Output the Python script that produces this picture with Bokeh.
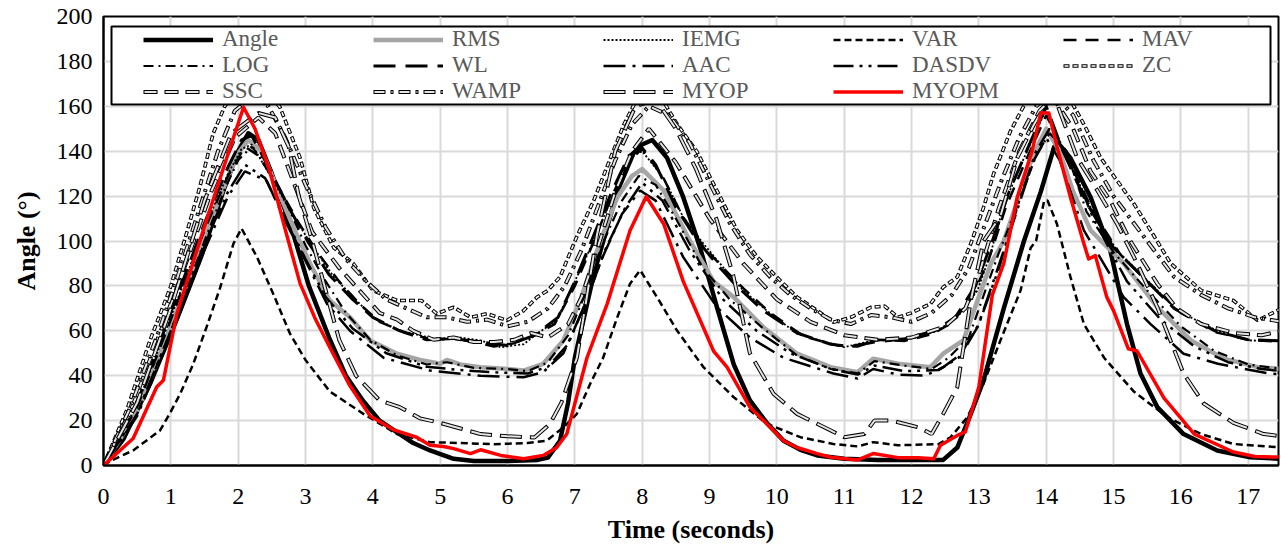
from bokeh.plotting import figure
from bokeh.models import Range1d, FixedTicker, Legend, LegendItem, BoxAnnotation
from bokeh.embed import file_html
from bokeh.resources import INLINE

# ---------------- data (time in s, angle in degrees) ----------------
ANGLE_T = [0, 0.3, 0.7, 1.1, 1.45, 1.8, 2.0, 2.15, 2.3, 2.5, 2.8, 3.05, 3.35, 3.6, 3.85, 4.1, 4.35, 4.6, 4.85, 5.2,
           5.5, 6.0, 6.45, 6.6, 6.78, 6.9, 7.0, 7.28, 7.45, 7.63, 7.87, 8.0, 8.15, 8.37, 8.61, 8.86, 9.11, 9.36, 9.6, 9.85,
           10.1, 10.35, 10.6, 11.0, 11.5, 12.0, 12.47, 12.68, 12.88, 13.07, 13.37, 13.67, 13.92, 14.12, 14.18, 14.36, 14.66, 14.95, 15.2, 15.4,
           15.65, 16.04, 16.54, 17.03, 17.5]
ANGLE_V = [0, 12, 37, 66, 93, 124, 140, 148, 145, 130, 105, 80, 57, 40, 29, 20, 15, 10, 6.7, 3,
           2, 2, 2.5, 3.5, 11, 28, 48, 85, 103, 122, 139, 143, 145, 137, 119.5, 97, 70.5, 45, 29, 19,
           11, 7, 4.5, 3, 2.5, 2.5, 2.5, 8, 23, 38, 70, 100, 122, 142, 143.5, 137, 119.5, 96, 63, 41,
           26, 14, 6.7, 3.7, 3]

RMS_T = [0, 0.5, 1.0, 1.5, 1.8, 2.0, 2.15, 2.35, 2.6, 2.85, 3.1, 3.36, 3.66, 3.96, 4.36, 4.7, 5.0, 5.1, 5.3, 5.6,
         6.0, 6.24, 6.53, 6.83, 7.08, 7.38, 7.63, 7.85, 8.0, 8.32, 8.71, 9.06, 9.36, 9.8, 10.3, 10.8, 11.2, 11.43, 11.8, 12.28,
         12.47, 12.77, 12.98, 13.18, 13.37, 13.6, 13.8, 14.0, 14.2, 14.4, 14.66, 15.15, 15.65, 16.15, 16.64, 17.14, 17.5]
RMS_V = [0, 24, 62, 102, 125, 139, 145, 140, 122, 104, 88, 73.5, 66, 55.7, 49.8, 47, 45.3, 47, 45, 43.8,
         43, 42.3, 45.3, 55.7, 73.5, 100, 119.5, 129, 132, 122.5, 100, 82, 75, 61.6, 49.8, 43.8, 41.6, 47.6, 45.3, 43.8,
         49.8, 55.7, 73.5, 90, 100, 120, 138, 150, 140, 122, 104.7, 90, 70.5, 55.7, 47.6, 43.8, 43]

IEMG_T = [0, 0.5, 1.0, 1.5, 1.85, 2.05, 2.2, 2.5, 2.8, 3.12, 3.42, 3.71, 4.0, 4.4, 4.9, 5.3, 5.6, 5.9, 6.24, 6.44,
          6.73, 7.03, 7.28, 7.53, 7.73, 7.87, 8.0, 8.32, 8.61, 8.91, 9.21, 9.5, 9.85, 10.3, 10.8, 11.0, 11.43, 11.8, 12.1, 12.38,
          12.68, 12.98, 13.18, 13.37, 13.67, 13.99, 14.31, 14.66, 15.05, 15.45, 15.95, 16.54, 17.03, 17.5]
IEMG_V = [0, 27, 66, 106, 130, 141, 143, 128, 112, 97, 84, 75, 66, 60, 56.6, 57, 55.7, 52.7, 54, 58.7,
          64.6, 84, 100, 118, 133, 138, 140, 128, 110.6, 98.8, 88, 78, 69, 58.7, 54.2, 52.7, 55.7, 55.7, 57, 60,
          66, 78, 95, 116, 137, 158, 137, 115, 95.8, 84, 69, 60, 55.7, 55.5]

VAR_T = [0, 0.1, 0.44, 0.84, 1.0, 1.14, 1.33, 1.53, 1.73, 1.93, 2.05, 2.28, 2.52, 2.77, 3.0, 3.36, 3.86, 4.36, 4.85, 5.3,
         5.8, 6.3, 6.58, 6.83, 7.03, 7.23, 7.42, 7.63, 7.82, 7.97, 8.22, 8.52, 8.91, 9.36, 9.85, 10.35, 10.84, 11.2, 11.43, 11.8,
         12.4, 12.58, 12.83, 13.07, 13.32, 13.62, 13.77, 13.85, 13.97, 14.02, 14.16, 14.36, 14.56, 14.86, 15.3, 15.8, 16.3, 16.78, 17.5]
VAR_V = [0, 2, 6.7, 15.6, 24, 32, 45, 61.6, 79, 98.8, 105.6, 92.8, 76.5, 58.7, 47, 33, 23, 14, 10.4, 10,
         9.5, 10, 11, 17, 23, 36.5, 48, 66, 81, 87, 75, 60, 43.8, 30.4, 18.6, 12.6, 9.6, 8.5, 10.4, 9,
         9.5, 12.6, 21.5, 36.5, 55.7, 78, 97, 100, 118, 118, 107.6, 84, 63, 48, 33, 21.5, 14, 9.6, 8]

MAV_T = [0, 0.5, 1.0, 1.5, 1.85, 2.1, 2.3, 2.6, 2.9, 3.2, 3.5, 3.8, 4.1, 4.5, 4.9, 5.2, 5.5, 5.8, 6.1, 6.4,
         6.7, 7.0, 7.3, 7.55, 7.8, 8.0, 8.3, 8.6, 8.9, 9.2, 9.5, 9.9, 10.4, 10.9, 11.2, 11.5, 11.9, 12.3, 12.6, 12.9,
         13.15, 13.4, 13.7, 14.0, 14.3, 14.7, 15.1, 15.5, 16.0, 16.5, 17.0, 17.5]
MAV_V = [0, 26, 65, 105, 129, 142, 138, 124, 108, 94, 82, 72, 64, 59, 56, 56.5, 55, 53, 54.5, 58,
         63, 80, 101, 120, 136, 141, 129, 111, 98, 88, 79, 68, 57.5, 53.5, 53, 56, 55.5, 58.5, 63.5, 75,
         92, 115, 136, 156, 138, 113, 94, 82, 68, 59.5, 56, 55]

LOG_T = [0, 0.5, 1.0, 1.5, 1.8, 2.0, 2.2, 2.4, 2.7, 3.0, 3.3, 3.6, 3.96, 4.36, 4.8, 5.1, 5.5, 6.0, 6.3, 6.6,
         6.9, 7.15, 7.4, 7.7, 7.95, 8.2, 8.5, 8.9, 9.3, 9.8, 10.3, 10.8, 11.2, 11.45, 11.9, 12.3, 12.55, 12.85, 13.05, 13.3,
         13.6, 13.85, 14.05, 14.3, 14.6, 15.0, 15.5, 16.0, 16.5, 17.0, 17.5]
LOG_V = [0, 23, 60, 100, 123, 136, 142, 135, 118, 98, 82, 68, 56, 49, 45, 46, 43.5, 43, 42, 46,
         58, 76, 98, 118, 129, 125, 110, 88, 74, 61, 49, 43, 41, 46.5, 44.5, 43, 48, 57, 74, 95,
         118, 138, 148, 140, 113, 95, 78, 62, 51, 45, 43]

WL_T = [0, 0.5, 1.0, 1.5, 1.85, 2.05, 2.2, 2.45, 2.75, 3.05, 3.35, 3.7, 4.0, 4.4, 4.8, 5.2, 5.6, 6.0, 6.4, 6.75,
        7.0, 7.3, 7.55, 7.8, 7.99, 8.2, 8.5, 8.8, 9.1, 9.4, 9.8, 10.3, 10.8, 11.1, 11.45, 11.9, 12.35, 12.65, 12.95, 13.2,
        13.45, 13.75, 14.0, 14.25, 14.6, 15.0, 15.4, 15.9, 16.5, 17.0, 17.5]
WL_V = [0, 28, 68, 108, 133, 145, 147, 133, 115, 99, 85, 74, 66, 60, 56, 56.5, 55, 53.5, 58, 66,
        82, 104, 122, 138, 141.8, 134, 115, 101, 90, 80, 69, 59, 54, 53, 55, 56.5, 60, 66, 80, 100,
        122, 143, 160, 140, 117, 97, 85, 70, 60, 56, 55.5]

AAC_T = [0, 0.5, 1.0, 1.5, 1.85, 2.1, 2.42, 2.72, 3.02, 3.32, 3.66, 4.16, 4.85, 5.6, 6.24, 6.53, 6.83, 7.1, 7.4, 7.7,
         7.97, 8.2, 8.61, 9.11, 9.6, 10.1, 10.84, 11.2, 11.43, 11.8, 12.2, 12.47, 12.75, 12.98, 13.25, 13.55, 13.8, 14.0, 14.2, 14.56,
         15.15, 15.55, 16.04, 16.55, 17.3, 17.5]
AAC_V = [0, 22, 58, 96, 120, 131, 127, 107.6, 90, 72, 60, 48, 42.3, 40, 39.3, 41.6, 50, 68, 92, 112,
         122.5, 118, 92.8, 70.5, 57, 48, 41, 38.7, 43, 40.5, 40, 43.8, 50, 61.6, 85, 112, 135, 146, 136, 104.7,
         75, 63, 49.8, 45.3, 41, 40.5]

DASDV_T = [0, 0.5, 1.0, 1.5, 1.85, 2.1, 2.4, 2.7, 3.0, 3.3, 3.7, 4.2, 4.8, 5.3, 5.8, 6.3, 6.6, 6.9, 7.15, 7.45,
           7.75, 8.0, 8.3, 8.7, 9.2, 9.7, 10.2, 10.8, 11.2, 11.45, 11.9, 12.4, 12.7, 13.0, 13.3, 13.6, 13.85, 14.05, 14.3, 14.7,
           15.2, 15.7, 16.2, 16.7, 17.2, 17.5]
DASDV_V = [0, 23, 60, 99, 122, 134, 128, 110, 92, 75, 61, 50, 44, 42.5, 41.5, 41, 44, 54, 72, 96,
           115, 126, 118, 96, 74, 60, 50, 43, 40.5, 44.5, 42, 42.5, 48, 63, 88, 118, 140, 150, 140, 110,
           82, 65, 53, 46, 43, 42]

ZC_T = [0, 0.35, 0.69, 0.99, 1.2, 1.43, 1.63, 1.8, 2.0, 2.2, 2.4, 2.62, 2.92, 3.12, 3.42, 3.71, 4.0, 4.36, 4.72, 4.95,
        5.2, 5.45, 5.7, 5.99, 6.24, 6.44, 6.6, 6.78, 7.03, 7.28, 7.53, 7.73, 7.9, 8.1, 8.3, 8.52, 8.81, 9.11, 9.41, 9.71,
        10.05, 10.3, 10.6, 10.84, 11.1, 11.4, 11.6, 11.8, 12.0, 12.28, 12.47, 12.68, 12.88, 13.07, 13.22, 13.47, 13.7, 14.0, 14.3, 14.56,
        14.81, 15.05, 15.3, 15.55, 15.85, 16.3, 16.78, 17.14, 17.43, 17.5]
ZC_V = [0, 25, 55.7, 79, 100, 124, 148, 160, 168, 170, 168, 159.6, 137, 115, 97, 90, 78, 73.5, 73.5, 67.6,
        70.5, 66, 67.6, 64.6, 69, 75, 78, 84, 102, 118, 137, 152, 162, 166, 163, 152, 140, 122.5, 104.7, 92.8,
        82.4, 75, 69, 63.8, 66, 70.5, 71, 66, 68, 72, 79.4, 84, 98.8, 115, 130, 149, 162, 170, 166, 152,
        137, 127, 116.7, 104.7, 90, 78, 73.5, 64.6, 69, 70]

SSC_T = [0, 0.4, 0.8, 1.2, 1.6, 1.95, 2.3, 2.55, 2.8, 3.1, 3.5, 3.8, 4.1, 4.36, 4.6, 4.9, 5.2, 5.5, 5.8, 6.1,
         6.35, 6.6, 6.9, 7.1, 7.35, 7.6, 7.85, 8.1, 8.5, 9.0, 9.5, 10.0, 10.5, 11.0, 11.5, 12.0, 12.5, 12.8, 13.0, 13.3,
         13.6, 13.9, 14.1, 14.4, 14.66, 14.95, 15.25, 15.65, 15.94, 16.3, 16.8, 17.2, 17.5]
SSC_V = [0, 24, 56, 88, 122, 146, 155, 148, 128, 104, 88, 78, 68, 65, 60, 56, 57, 55, 55, 56,
         59, 57, 63, 75, 98, 122, 140, 150, 135, 110, 90, 74, 64, 58, 56, 57, 62, 70, 85, 115,
         140, 158, 164, 150, 131, 118, 100, 81, 70, 63, 59, 58, 60]

WAMP_T = [0, 0.4, 0.8, 1.1, 1.4, 1.7, 1.95, 2.2, 2.45, 2.7, 3.0, 3.3, 3.6, 3.9, 4.2, 4.5, 4.8, 5.1, 5.4, 5.7,
          6.0, 6.3, 6.6, 6.85, 7.1, 7.35, 7.6, 7.85, 8.1, 8.4, 8.7, 9.0, 9.3, 9.6, 9.9, 10.2, 10.5, 10.8, 11.1, 11.4,
          11.7, 12.0, 12.3, 12.6, 12.85, 13.1, 13.35, 13.6, 13.85, 14.1, 14.4, 14.7, 15.0, 15.3, 15.6, 15.9, 16.3, 16.7, 17.1, 17.5]
WAMP_V = [0, 26, 58, 84, 112, 140, 158, 164, 160, 146, 125, 106, 92, 82, 74, 70, 66, 66, 64, 65,
          62, 64, 70, 80, 96, 116, 136, 152, 160, 156, 144, 126, 108, 94, 84, 76, 70, 65, 63, 67,
          66, 64, 68, 76, 88, 108, 128, 146, 160, 166, 156, 136, 120, 108, 96, 84, 76, 70, 66, 64]

MYOP_T = [0, 0.5, 1.0, 1.5, 1.9, 2.3, 2.55, 2.75, 2.9, 3.1, 3.3, 3.5, 3.75, 4.1, 4.4, 4.7, 5.0, 5.3, 5.6, 6.0,
          6.4, 6.63, 6.8, 7.03, 7.33, 7.6, 7.9, 8.2, 8.5, 8.8, 9.1, 9.35, 9.6, 9.95, 10.3, 10.8, 11.0, 11.3, 11.45, 11.7,
          12.1, 12.3, 12.47, 12.68, 12.88, 13.07, 13.32, 13.57, 13.82, 14.1, 14.46, 14.76, 15.05, 15.35, 15.65, 16.04, 16.34, 16.78, 17.23, 17.5]
MYOP_V = [0, 28, 70, 118, 148, 157, 155, 142, 120, 100, 78, 56, 40, 29, 26, 21, 19, 16.5, 14, 13,
          12.5, 18.5, 28, 48, 103, 140, 160, 163, 150, 132, 110, 85, 50, 32, 23, 15.6, 12.6, 14, 20, 20,
          17, 14, 23, 35, 73.5, 100, 111, 137, 152, 166, 137, 122.5, 107.8, 90, 70.5, 41, 27.6, 19, 14, 13]

MYOPM_T = [0, 0.44, 0.79, 0.89, 1.09, 1.43, 1.83, 2.08, 2.25, 2.47, 2.7, 2.92, 3.15, 3.36, 3.65, 3.96, 4.3, 4.65, 4.85, 5.05,
           5.2, 5.45, 5.6, 5.9, 6.24, 6.53, 6.73, 6.88, 7.18, 7.48, 7.82, 8.06, 8.32, 8.61, 9.06, 9.26, 9.6, 9.8, 10.1, 10.3,
           10.6, 10.8, 11.2, 11.43, 11.8, 12.1, 12.33, 12.43, 12.68, 12.8, 13.0, 13.2, 13.37, 13.57, 13.79, 13.92, 14.04, 14.16, 14.36, 14.56,
           14.63, 14.73, 14.9, 15.0, 15.22, 15.35, 15.75, 16.2, 16.78, 17.1, 17.5]
MYOPM_V = [0, 12, 35, 38, 67.6, 100, 137, 159.6, 150, 131, 105, 81, 65, 52.7, 36, 22, 16, 12.6, 9, 8.5,
           7.5, 5.3, 7, 4.5, 3, 4.5, 8, 14, 48, 72, 104.7, 119.8, 107.6, 82, 51, 43.8, 26, 20, 11, 8,
           5.3, 3.7, 2.5, 5.3, 3.5, 3.5, 3, 9, 13.4, 15, 35, 76, 90, 119.5, 140, 157, 157, 142, 119.5, 98.8,
           92, 93.5, 75, 69, 52, 51, 30, 14, 6, 4, 3.7]

SERIES_NAMES = ["Angle", "RMS", "IEMG", "VAR", "MAV", "LOG", "WL", "AAC", "DASDV", "ZC", "SSC", "WAMP", "MYOP", "MYOPM"]
X_TICKS = list(range(0, 18))
Y_TICKS = list(range(0, 201, 20))

DATA = {
    "Angle": (ANGLE_T, ANGLE_V), "RMS": (RMS_T, RMS_V), "IEMG": (IEMG_T, IEMG_V), "VAR": (VAR_T, VAR_V),
    "MAV": (MAV_T, MAV_V), "LOG": (LOG_T, LOG_V), "WL": (WL_T, WL_V), "AAC": (AAC_T, AAC_V),
    "DASDV": (DASDV_T, DASDV_V), "ZC": (ZC_T, ZC_V), "SSC": (SSC_T, SSC_V), "WAMP": (WAMP_T, WAMP_V),
    "MYOP": (MYOP_T, MYOP_V), "MYOPM": (MYOPM_T, MYOPM_V),
}
for k, (tt, vv) in DATA.items():
    assert len(tt) == len(vv), (k, len(tt), len(vv))

# ---------------- styles ----------------
# each entry: list of stroke layers (color, width, dash, dash_offset)
INNER = "#e4e4e4"
STYLES = {
    "Angle": [("black", 4.5, "solid", 0)],
    "RMS":   [("#a5a5a5", 4.5, "solid", 0)],
    "IEMG":  [("black", 1.8, "2 2", 0)],
    "VAR":   [("black", 2.5, "7 4", 0)],
    "MAV":   [("black", 2.5, "13 9", 0)],
    "LOG":   [("black", 2.2, "10 5 2 5", 0)],
    "WL":    [("black", 3.0, "22 10", 0)],
    "AAC":   [("black", 2.5, "22 7 3 7", 0)],
    "DASDV": [("black", 2.5, "20 6 3 6 3 6", 0)],
    "ZC":    [("black", 3.6, "6 3", 0), ("white", 1.6, "4 5", 8)],
    "SSC":   [("black", 4.0, "14 7", 0), (INNER, 2.0, "12 9", 20)],
    "WAMP":  [("black", 4.0, "12 5 3 5", 0), (INNER, 2.0, "10 7 1 7", 24)],
    "MYOP":  [("black", 4.0, "22 8", 0), (INNER, 2.0, "20 10", 29)],
    "MYOPM": [("#ff0000", 3.5, "solid", 0)],
}

FONT = "Liberation Serif"

p = figure(width=1281, height=547, output_backend="svg", toolbar_location=None,
           x_range=Range1d(0, 17.45), y_range=Range1d(0, 200),
           min_border_left=103, min_border_right=3, min_border_top=16, min_border_bottom=82)
p.background_fill_color = "white"
p.border_fill_color = "white"
p.outline_line_color = "black"
p.outline_line_width = 2

p.xaxis.ticker = FixedTicker(ticks=X_TICKS)
p.yaxis.ticker = FixedTicker(ticks=Y_TICKS)
for ax in (p.xaxis[0], p.yaxis[0]):
    ax.axis_line_color = "black"
    ax.axis_line_width = 2
    ax.major_tick_line_color = None
    ax.minor_tick_line_color = None
    ax.major_tick_out = 0
    ax.major_tick_in = 0
    ax.minor_tick_out = 0
    ax.minor_tick_in = 0
    ax.major_label_text_font = FONT
    ax.major_label_text_font_size = "24px"
    ax.major_label_text_color = "black"
    ax.axis_label_text_font = FONT
    ax.axis_label_text_font_size = "26px"
    ax.axis_label_text_font_style = "bold"
    ax.axis_label_text_color = "black"
p.xaxis.axis_label = "Time (seconds)"
p.yaxis.axis_label = "Angle (°)"
p.xaxis.major_label_standoff = 23
p.xaxis.axis_label_standoff = 8
p.yaxis.major_label_standoff = 11
p.yaxis.axis_label_standoff = 13

p.xgrid.grid_line_color = "#d9d9d9"
p.ygrid.grid_line_color = "#d9d9d9"
p.xgrid.grid_line_width = 2
p.ygrid.grid_line_width = 2

items = []
for name in SERIES_NAMES:
    tt, vv = DATA[name]
    rs = []
    for color, width, dash, off in STYLES[name]:
        r = p.line(tt, vv, line_color=color, line_width=width, line_dash=dash,
                   line_dash_offset=off, line_join="round" if dash == "solid" else "bevel")
        rs.append(r)
    items.append(LegendItem(label=name, renderers=rs))

# legend frame box (screen units relative to plot frame, y upward from frame bottom)
box = BoxAnnotation(left=8, right=1167, top=439, bottom=361,
                    left_units="screen", right_units="screen", top_units="screen", bottom_units="screen",
                    fill_color="white", fill_alpha=1.0, line_color="black", line_width=2, line_alpha=1.0)
p.add_layout(box)

legend = Legend(items=items, orientation="horizontal", ncols=5, location=(40, 361),
                padding=0, spacing=0, margin=0,
                glyph_width=70, glyph_height=25, label_width=151, label_height=25, label_standoff=9,
                label_text_font=FONT, label_text_font_size="23px", label_text_color="#595959",
                border_line_alpha=0, background_fill_alpha=0)
p.add_layout(legend, "center")

open("out.html", "w").write(file_html(p, INLINE))
